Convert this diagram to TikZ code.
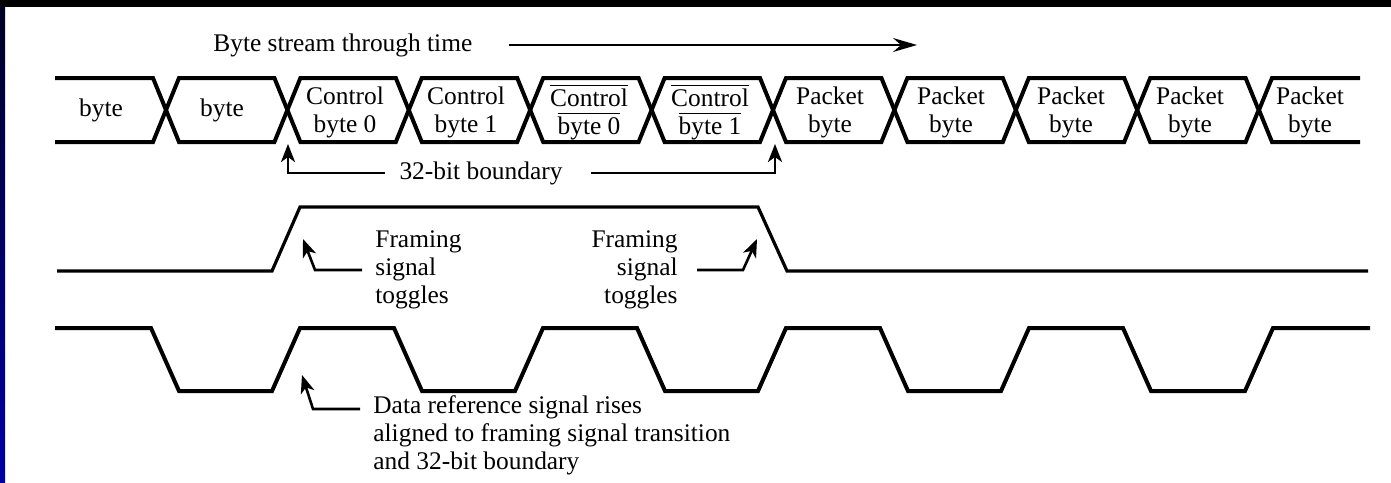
\documentclass[tikz,border=0pt]{standalone}
\usepackage{fontspec}
\setmainfont{Liberation Serif}
\usetikzlibrary{arrows.meta}

\newcommand{\ovl}[1]{$\overline{\mbox{#1}}$}

\begin{document}
\begin{tikzpicture}[
    x=0.5pt, y=-0.5pt,
    bus/.style={line width=2pt},
    framesig/.style={line width=1.6pt},
    refsig/.style={line width=2pt},
    cell/.style={align=center, inner sep=0pt},
    note/.style={inner sep=0pt},
    pointer/.style={-{Stealth[length=9pt, width=7pt, inset=2.5pt]}, line width=1.3pt},
    timeline/.style={-{Stealth[length=12pt, width=7pt, inset=4pt]}, line width=1pt},
    font=\fontsize{12.7}{14}\selectfont
]

% Frame
\fill[white] (0,0) rectangle (1391,482);
\fill[black] (0,0) rectangle (1391,7);
\shade[top color=black!85!blue, bottom color=blue!65!black] (0,7) rectangle (5,482);
\useasboundingbox (0,0) rectangle (1391,482);

% Time axis
\node[note, anchor=west] (stream) at (213,45) {Byte stream through time};
\coordinate (tend) at (917,45);
\draw[timeline] ([xshift=18pt]stream.east) -- (tend);

% Byte stream
\draw[bus] (55,78) -- (153,78) -- (166,110) -- (153,142) -- (55,142);
\foreach \k in {1,...,9} {
  \pgfmathsetmacro\a{166+121.4*(\k-1)}
  \pgfmathsetmacro\b{166+121.4*\k}
  \draw[bus] (\a+13,78) -- (\b-13,78) -- (\b,110) -- (\b-13,142) -- (\a+13,142) -- (\a,110) -- cycle;
}
\draw[bus] (1360,78) -- (1272,78) -- (1259,110) -- (1272,142) -- (1360,142);

% Byte labels
\node[cell] (b1) at (101,110) {byte};
\node[cell] (b2) at (222,110) {byte};
\node[cell] (c0) at (345,112) {Control\\byte 0};
\node[cell] (c1) at (466,112) {Control\\byte 1};
\node[cell] (n0) at (589,112) {\ovl{Control}\\\ovl{byte 0}};
\node[cell] (n1) at (710,112) {\ovl{Control}\\\ovl{byte 1}};
\foreach \x [count=\i] in {830,951,1071,1190,1310}
  \node[cell] (p\i) at (\x,112) {Packet\\byte};

% 32-bit boundary
\node[note] (bnd) at (481,173) {32-bit boundary};
\coordinate (edge0) at (288,144);
\coordinate (edge1) at (775,144);
\draw[pointer] ([xshift=-7pt]bnd.west) -| (edge0);
\draw[pointer] ([xshift=14pt]bnd.east) -| (edge1);

% Framing signal
\draw[framesig] (57,271) -- (272,271) -- (300,207) -- (758,207) -- (787,271) -- (1368,271);

% Data reference signal
\draw[refsig] (55,328) -- (151,328) -- (179,391) -- (272,391) -- (300,328)
  -- (394,328) -- (422,391) -- (515,391) -- (543,328) -- (637,328)
  -- (665,391) -- (758,391) -- (786,328) -- (880,328) -- (908,391)
  -- (1001,391) -- (1029,328) -- (1123,328) -- (1151,391) -- (1245,391)
  -- (1273,328) -- (1370,328);

% Notes
\node[note, align=left, anchor=west] (tog1) at (375,270) {Framing\\signal\\toggles};
\node[note, align=right, anchor=east] (tog2) at (678,270) {Framing\\signal\\toggles};
\node[note, align=left, anchor=west] (rise) at (373,435) {Data reference signal rises\\aligned to framing signal transition\\and 32-bit boundary};

\coordinate (up0) at (303,239);
\coordinate (dn0) at (757,239);
\coordinate (rs0) at (302,375);

\draw[pointer] ([xshift=-6.5pt]tog1.west) -- ++(-47,0) -- (up0);
\draw[pointer] ([xshift=9.5pt]tog2.east) -- ++(46,0) -- (dn0);
\draw[pointer] ([xshift=-6.5pt,yshift=13pt]rise.west) -- ++(-47,0) -- (rs0);

\end{tikzpicture}
\end{document}
